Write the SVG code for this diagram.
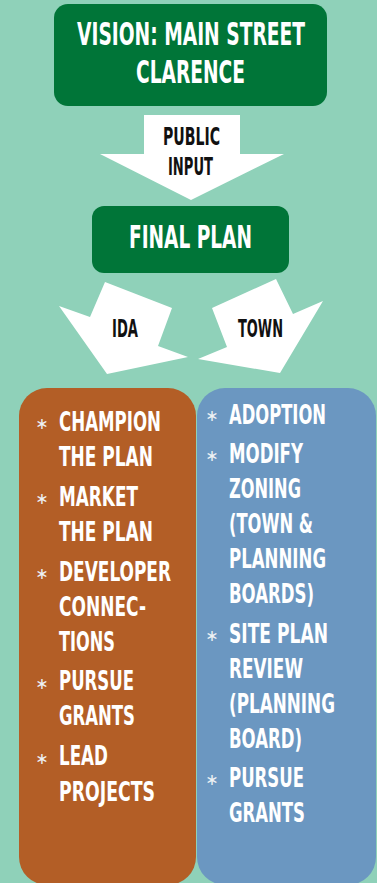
<svg xmlns="http://www.w3.org/2000/svg" width="377" height="883" viewBox="0 0 377 883">
<style>
.t{font-family:"DejaVu Sans Condensed","Liberation Sans Narrow","Liberation Sans",sans-serif;font-weight:bold;}
.w{fill:#ffffff;}
.k{fill:#111111;}
.big{font-size:31.5px;}
.mid{font-size:27px;}
.sm{font-size:25px;}
.b{font-family:"DejaVu Sans",sans-serif;font-size:16px;fill:#eef2f4;text-anchor:middle;}
.arr{fill:#ffffff;}
</style>
<rect x="0" y="0" width="377" height="883" fill="#8fd1b9"/>
<g id="vision">
<rect x="54" y="4" width="273" height="102" rx="14" fill="#007538"/>
<text class="t w big" x="77" y="45" textLength="228" lengthAdjust="spacingAndGlyphs">VISION: MAIN STREET</text>
<text class="t w big" x="136" y="83" textLength="109" lengthAdjust="spacingAndGlyphs">CLARENCE</text>
</g>
<g id="connectors">
<g id="public-input">
<polygon class="arr" points="144,115 240,115 240,154 284,154 191,200 100,154 144,154"/>
<text class="t k sm" x="163" y="145" textLength="57" lengthAdjust="spacingAndGlyphs">PUBLIC</text>
<text class="t k sm" x="168" y="175" textLength="45" lengthAdjust="spacingAndGlyphs">INPUT</text>
</g>
<g id="ida-arrow">
<polygon class="arr" points="105,282 172,308 158,346 188,357 107,374 59,306 90,317"/>
<text class="t k sm" x="112" y="337" textLength="26" lengthAdjust="spacingAndGlyphs">IDA</text>
</g>
<g id="town-arrow">
<polygon class="arr" points="276,279 293,314 323,301 280,373 198,359 227,347 212,308"/>
<text class="t k sm" x="238" y="337" textLength="45" lengthAdjust="spacingAndGlyphs">TOWN</text>
</g>
</g>
<g id="final-plan">
<rect x="92" y="206" width="197" height="67" rx="12" fill="#007538"/>
<text class="t w big" x="129" y="248" textLength="123" lengthAdjust="spacingAndGlyphs">FINAL PLAN</text>
</g>
<g id="ida">
<rect x="19" y="388" width="177" height="497" rx="28" fill="#b35e26"/>
<text class="b" x="42" y="429">∗</text>
<text class="t w mid" x="59" y="431" textLength="102" lengthAdjust="spacingAndGlyphs">CHAMPION</text>
<text class="t w mid" x="59" y="466" textLength="94" lengthAdjust="spacingAndGlyphs">THE PLAN</text>
<text class="b" x="42" y="504">∗</text>
<text class="t w mid" x="59" y="506" textLength="79" lengthAdjust="spacingAndGlyphs">MARKET</text>
<text class="t w mid" x="59" y="541" textLength="94" lengthAdjust="spacingAndGlyphs">THE PLAN</text>
<text class="b" x="42" y="579">∗</text>
<text class="t w mid" x="59" y="581" textLength="112" lengthAdjust="spacingAndGlyphs">DEVELOPER</text>
<text class="t w mid" x="59" y="616" textLength="87" lengthAdjust="spacingAndGlyphs">CONNEC-</text>
<text class="t w mid" x="59" y="651" textLength="56" lengthAdjust="spacingAndGlyphs">TIONS</text>
<text class="b" x="42" y="689">∗</text>
<text class="t w mid" x="59" y="690" textLength="75" lengthAdjust="spacingAndGlyphs">PURSUE</text>
<text class="t w mid" x="59" y="725" textLength="76" lengthAdjust="spacingAndGlyphs">GRANTS</text>
<text class="b" x="42" y="764">∗</text>
<text class="t w mid" x="59" y="765" textLength="49" lengthAdjust="spacingAndGlyphs">LEAD</text>
<text class="t w mid" x="59" y="801" textLength="96" lengthAdjust="spacingAndGlyphs">PROJECTS</text>
</g>
<g id="town">
<rect x="197" y="388" width="179" height="497" rx="28" fill="#6b97c1"/>
<text class="b" x="212" y="421">∗</text>
<text class="t w mid" x="229" y="424" textLength="97" lengthAdjust="spacingAndGlyphs">ADOPTION</text>
<text class="b" x="212" y="461">∗</text>
<text class="t w mid" x="229" y="463" textLength="74" lengthAdjust="spacingAndGlyphs">MODIFY</text>
<text class="t w mid" x="229" y="498" textLength="72" lengthAdjust="spacingAndGlyphs">ZONING</text>
<text class="t w mid" x="229" y="533" textLength="84" lengthAdjust="spacingAndGlyphs">(TOWN &amp;</text>
<text class="t w mid" x="229" y="568" textLength="97" lengthAdjust="spacingAndGlyphs">PLANNING</text>
<text class="t w mid" x="229" y="603" textLength="85" lengthAdjust="spacingAndGlyphs">BOARDS)</text>
<text class="b" x="212" y="641">∗</text>
<text class="t w mid" x="229" y="643" textLength="99" lengthAdjust="spacingAndGlyphs">SITE PLAN</text>
<text class="t w mid" x="229" y="678" textLength="74" lengthAdjust="spacingAndGlyphs">REVIEW</text>
<text class="t w mid" x="229" y="713" textLength="106" lengthAdjust="spacingAndGlyphs">(PLANNING</text>
<text class="t w mid" x="229" y="748" textLength="73" lengthAdjust="spacingAndGlyphs">BOARD)</text>
<text class="b" x="212" y="785">∗</text>
<text class="t w mid" x="229" y="787" textLength="75" lengthAdjust="spacingAndGlyphs">PURSUE</text>
<text class="t w mid" x="229" y="822" textLength="76" lengthAdjust="spacingAndGlyphs">GRANTS</text>
</g>
</svg>
